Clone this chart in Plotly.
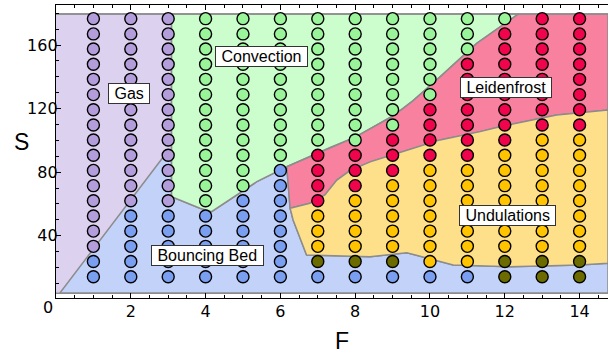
import plotly.graph_objects as go

# ---- data ----
F_values = [1, 2, 3, 4, 5, 6, 7, 8, 9, 10, 11, 12, 13, 14]
S_values = [14.2, 23.8, 33.3, 42.9, 52.4, 62.0, 71.5, 81.1, 90.6,
            100.2, 109.7, 119.3, 128.8, 138.4, 147.9, 157.5, 167.0, 176.6]
# phase of each point, column by column (bottom -> top)
# B=bouncing bed, G=gas, C=convection, L=Leidenfrost, U=undulations, O=bouncing/undulations
phase_columns = [
    "BBGGGGGGGGGGGGGGGG",
    "BBBBBGGGGGGGGGGGGG",
    "BBBBBGGGGGGGGGGGGG",
    "BBBBBCCCCCCCCCCCCC",
    "BBBBBBCCCCCCCCCCCC",
    "BBBBBBBBCCCCCCCCCC",
    "BOUUULLLLCCCCCCCCC",
    "BOUUUULLLCCCCCCCCC",
    "BOUUUUULLLCCCCCCCC",
    "BUUUUUUULLLLCCCCCC",
    "BUUUUUUULLLLLLLCCC",
    "OOUUUUUUULLLLLLLLC",
    "OOUUUUUUUULLLLLLLL",
    "OOUUUUUUUULLLLLLLL",
]
marker_colors = {"B": "#7b9ff0", "G": "#b39ddb", "C": "#9af59a",
                 "L": "#f0044c", "U": "#ffc300", "O": "#6b6b00"}

# region boundaries (F, S)
gas_F = [0.0, 0.1, 2.98, 3.09, 3.09, 0.0]
gas_S = [3.8, 3.8, 93.0, 90.0, 179.5, 179.5]

conv_F = [3.09, 3.09, 3.85, 4.16, 5.37, 6.17, 7.33, 8.0, 9.02, 9.55, 10.27, 11.25, 12.36]
conv_S = [179.5, 64.6, 57.3, 55.1, 74.0, 83.4, 95.5, 102.0, 115.5, 125.0, 140.0, 161.0, 179.5]

leid_low_F = [6.26, 6.79, 7.19, 7.51, 7.86, 8.4, 9.15, 10.27, 11.34, 11.87, 13.39, 14.76]
leid_low_S = [57.3, 60.4, 65.6, 75.0, 81.0, 86.5, 92.0, 100.3, 105.5, 108.6, 116.0, 119.1]

und_low_F = [6.26, 6.34, 6.70, 8.4, 9.2, 9.38, 10.62, 12.14, 14.01, 14.76]
und_low_S = [57.3, 49.9, 27.9, 26.8, 28.9, 29.3, 21.6, 20.5, 21.6, 22.7]

F_max = 14.76
S_bottom = 3.8
S_top = 179.5

labels = ["Gas", "Convection", "Bouncing Bed", "Leidenfrost", "Undulations"]
label_F = [1.95, 5.50, 4.04, 12.04, 12.08]
label_S = [129.5, 152.7, 27.6, 133.0, 52.6]

# ---- figure ----
fig = go.Figure()
edge = dict(color="#8c8c8c", width=1.5)

# bouncing bed (blue)
bb_F = [0.1, F_max] + [F_max] + und_low_F[::-1] + [6.17] + conv_F[1:6][::-1] + [3.09, 2.98]
bb_S = [S_bottom, S_bottom] + [und_low_S[-1]] + und_low_S[::-1] + [83.4] + conv_S[1:6][::-1] + [90.0, 93.0]
fig.add_trace(go.Scatter(x=bb_F, y=bb_S, fill="toself", fillcolor="#c2d2f8",
                         mode="lines", line=edge, hoverinfo="skip"))
# gas (purple)
fig.add_trace(go.Scatter(x=gas_F, y=gas_S, fill="toself", fillcolor="#dcd1ee",
                         mode="lines", line=edge, hoverinfo="skip"))
# convection (green)
fig.add_trace(go.Scatter(x=conv_F + [3.09], y=conv_S + [179.5], fill="toself",
                         fillcolor="#ccfdcc", mode="lines", line=edge, hoverinfo="skip"))
# Leidenfrost (pink)
lf_F = conv_F[5:] + [F_max, F_max] + leid_low_F[::-1] + [6.17]
lf_S = conv_S[5:] + [S_top, leid_low_S[-1]] + leid_low_S[::-1] + [83.4]
fig.add_trace(go.Scatter(x=lf_F, y=lf_S, fill="toself", fillcolor="#f7819f",
                         mode="lines", line=edge, hoverinfo="skip"))
# undulations (yellow)
un_F = leid_low_F + und_low_F[::-1]
un_S = leid_low_S + und_low_S[::-1]
fig.add_trace(go.Scatter(x=un_F, y=un_S, fill="toself", fillcolor="#fee08b",
                         mode="lines", line=edge, hoverinfo="skip"))
# outer top/bottom lines
fig.add_trace(go.Scatter(x=[0, F_max], y=[S_top, S_top], mode="lines", line=edge, hoverinfo="skip"))
fig.add_trace(go.Scatter(x=[0.1, F_max], y=[S_bottom, S_bottom], mode="lines", line=edge, hoverinfo="skip"))

# points
pts_F, pts_S, pts_C = [], [], []
for f, col in zip(F_values, phase_columns):
    for s, ph in zip(S_values, col):
        pts_F.append(f)
        pts_S.append(s)
        pts_C.append(marker_colors[ph])
fig.add_trace(go.Scatter(x=pts_F, y=pts_S, mode="markers",
                         marker=dict(size=12, color=pts_C, line=dict(color="black", width=1.4)),
                         hoverinfo="skip"))

annotations = []
for t, f, s in zip(labels, label_F, label_S):
    annotations.append(dict(x=f, y=s, xref="x", yref="y", text="\u00a0" + t + "\u00a0",
                            showarrow=False, bgcolor="white", bordercolor="#333",
                            borderwidth=1, borderpad=1,
                            font=dict(family="Liberation Sans, Arial", size=16, color="black")))
annotations.append(dict(x=-0.0634, y=0.532, xref="paper", yref="paper", text="S", showarrow=False,
                        xanchor="center", yanchor="middle",
                        font=dict(family="Liberation Sans, Arial", size=23, color="black")))
annotations.append(dict(x=0.518, y=-0.147, xref="paper", yref="paper", text="F", showarrow=False,
                        xanchor="center", yanchor="middle",
                        font=dict(family="Liberation Sans, Arial", size=23, color="black")))
annotations.append(dict(x=-0.0145, y=-0.034, xref="paper", yref="paper", text="0", showarrow=False,
                        xanchor="center", yanchor="middle",
                        font=dict(family="DejaVu Sans", size=16, color="black")))

fig.update_layout(
    width=608, height=354,
    margin=dict(l=56, r=0, t=5, b=56, autoexpand=False),
    plot_bgcolor="white", paper_bgcolor="white",
    showlegend=False,
    annotations=annotations,
    xaxis=dict(range=[0, F_max], showgrid=False, zeroline=False, automargin=False,
               showline=True, linecolor="black", linewidth=1.3, mirror="ticks",
               ticks="inside", ticklen=5, tickcolor="black", tickwidth=1,
               tickvals=[2, 4, 6, 8, 10, 12, 14], ticklabelstandoff=-1,
               minor=dict(dtick=0.5, tick0=0, ticks="inside", ticklen=3, tickcolor="black"),
               tickfont=dict(family="DejaVu Sans", size=16, color="black")),
    yaxis=dict(range=[0.8, 185.2], showgrid=False, zeroline=False, automargin=False,
               showline=True, linecolor="black", linewidth=1.3,
               ticks="inside", ticklen=5, tickcolor="black", tickwidth=1,
               tickvals=[40, 80, 120, 160], ticklabelstandoff=-6,
               minor=dict(dtick=10, tick0=0, ticks="inside", ticklen=3, tickcolor="black"),
               tickfont=dict(family="DejaVu Sans", size=16, color="black")),
)

fig.write_html("out.html", config={"displayModeBar": False},
               post_script="document.body.style.margin='0';document.body.style.overflow='hidden';")
